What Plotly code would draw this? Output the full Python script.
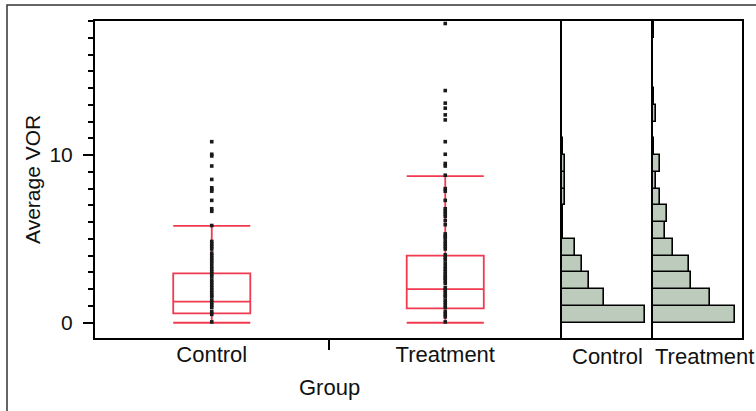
import plotly.graph_objects as go

# ---------------- data ----------------
groups = ["Control", "Treatment"]

control_points = [10.8, 10.05, 9.95, 9.35, 8.55, 8.05, 7.95, 7.85, 7.3, 6.8, 6.65, 5.8,
                  4.85, 4.7, 4.55, 4.4, 4.15, 4.0, 3.85, 3.7, 3.55, 3.35, 3.2, 3.05, 2.9,
                  2.75, 2.55, 2.4, 2.25, 2.1, 1.95, 1.8, 1.65, 1.55, 1.35, 1.2, 1.05, 0.9,
                  0.65, 0.5, 0.05]
treatment_points = [17.85, 13.85, 13.1, 12.8, 12.4, 12.1, 10.8, 10.05, 9.5, 9.35, 8.8, 8.0,
                    7.85, 7.3, 6.8, 6.65, 6.5, 6.35, 6.1, 5.85, 5.3, 5.15, 5.05, 4.85, 4.7,
                    4.55, 4.4, 4.05, 3.9, 3.75, 3.55, 3.35, 3.2, 3.05, 2.9, 2.75, 2.65, 2.5,
                    2.35, 2.1, 1.95, 1.8, 1.65, 1.55, 1.35, 1.2, 1.05, 0.9, 0.65, 0.5, 0.35,
                    0.05]

# box statistics (lower whisker, q1, median, q3, upper whisker)
control_box = dict(lowerfence=0.0, q1=0.56, median=1.26, q3=2.94, upperfence=5.78)
treatment_box = dict(lowerfence=0.0, q1=0.86, median=2.0, q3=4.0, upperfence=8.75)

# histogram bins (lower edges, width 1) and counts
bin_lower = [0, 1, 2, 3, 4, 5, 6, 7, 8, 9, 10, 11, 12, 13, 14, 15, 16, 17]
control_counts = [91, 46, 30, 22, 14, 1, 1, 3, 3, 3, 1, 0, 0, 0, 0, 0, 0, 0]
treatment_counts = [92, 64, 43, 40, 22, 14, 16, 8, 3, 8, 1, 0, 3, 1, 0, 0, 0, 1]

# ---------------- layout constants ----------------
W, H = 756, 411
ML, MR, MT, MB = 95, 14, 21, 73
PW, PH = W - ML - MR, H - MT - MB

def px_x(p):
    return (p - ML) / PW

def px_y(p):
    return (H - MB - p) / PH

RED = "#ef3a50"
BARFILL = "#bdcbbc"
FONT = "Arial, Liberation Sans, sans-serif"
TXT = "#111111"

fig = go.Figure()

for i, (g, b) in enumerate(zip(groups, [control_box, treatment_box])):
    fig.add_trace(go.Box(
        x=[i], q1=[b["q1"]], median=[b["median"]], q3=[b["q3"]],
        lowerfence=[b["lowerfence"]], upperfence=[b["upperfence"]],
        width=0.33, whiskerwidth=1, boxpoints=False,
        line=dict(color=RED, width=1.8), fillcolor="rgba(0,0,0,0)",
        showlegend=False, xaxis="x", yaxis="y", hoverinfo="skip"))

for i, pts in enumerate([control_points, treatment_points]):
    fig.add_trace(go.Scatter(
        x=[i] * len(pts), y=pts, mode="markers",
        marker=dict(symbol="square", size=3.6, color="#1a1a1a", line=dict(width=0)),
        showlegend=False, xaxis="x", yaxis="y", cliponaxis=False))

for counts, xa, ya in [(control_counts, "x2", "y2"), (treatment_counts, "x3", "y3")]:
    ys = [b + 0.5 for b, c in zip(bin_lower, counts) if c > 0]
    xs = [c for c in counts if c > 0]
    fig.add_trace(go.Bar(
        x=xs, y=ys, orientation="h", width=1,
        marker=dict(color=BARFILL, line=dict(color="black", width=1.6)),
        showlegend=False, xaxis=xa, yaxis=ya))

d1 = px_x(562)
d2 = px_x(653)

base = dict(showgrid=False, zeroline=False, linecolor="black")
yrange = [-0.91, 18.0]

fig.update_layout(
    width=W, height=H,
    margin=dict(l=ML, r=MR, t=MT, b=MB),
    paper_bgcolor="white", plot_bgcolor="white",
    font=dict(family=FONT, size=22, color=TXT),
    bargap=0,
    xaxis=dict(domain=[0, d1], range=[-0.5, 1.5], tickvals=[0, 1], ticktext=groups,
               ticks="", tickfont=dict(size=22), ticklabelstandoff=-4,
               showline=True, linewidth=2, mirror=True,
               minor=dict(tickvals=[0.5], ticks="outside", ticklen=10, tickwidth=1.5,
                          tickcolor="black"),
               **base),
    yaxis=dict(domain=[0, 1], range=yrange, tickvals=[0, 10], ticks="outside",
               ticklen=10, tickwidth=1.5, tickcolor="black", tickfont=dict(size=21),
               ticklabelstandoff=6, showline=True, linewidth=2, mirror=False,
               minor=dict(tick0=0, dtick=1, ticks="outside", ticklen=5, tickwidth=1.5,
                          tickcolor="black"),
               **base),
    xaxis2=dict(domain=[d1, d2], range=[0, 100], showticklabels=False, ticks="",
                anchor="y2", showline=True, linewidth=2, mirror=True, **base),
    yaxis2=dict(domain=[0, 1], range=yrange, showticklabels=False, ticks="",
                anchor="x2", showline=True, linewidth=1.5, mirror=False, **base),
    xaxis3=dict(domain=[d2, 1], range=[0, 100], showticklabels=False, ticks="",
                anchor="y3", showline=True, linewidth=2, mirror=True, **base),
    yaxis3=dict(domain=[0, 1], range=yrange, showticklabels=False, ticks="",
                anchor="x3", showline=True, linewidth=1.5, mirror=True, **base),
    shapes=[dict(type="rect", xref="paper", yref="paper",
                 x0=px_x(7), y0=px_y(460), x1=px_x(820), y1=px_y(5),
                 line=dict(color="#333333", width=1.5), fillcolor="rgba(0,0,0,0)",
                 layer="below")],
    annotations=[
        dict(text="Average VOR", xref="paper", yref="paper", x=px_x(32), y=px_y(180),
             textangle=-90, showarrow=False, xanchor="center", yanchor="middle",
             font=dict(size=21)),
        dict(text="Group", xref="paper", yref="paper", x=px_x(329), y=px_y(388),
             showarrow=False, xanchor="center", yanchor="middle", font=dict(size=22)),
        dict(text="Control", xref="paper", yref="paper", x=px_x(607), y=px_y(356),
             showarrow=False, xanchor="center", yanchor="middle", font=dict(size=22)),
        dict(text="Treatment", xref="paper", yref="paper", x=px_x(704), y=px_y(356),
             showarrow=False, xanchor="center", yanchor="middle", font=dict(size=22)),
    ],
)

fig.write_html("out.html")
